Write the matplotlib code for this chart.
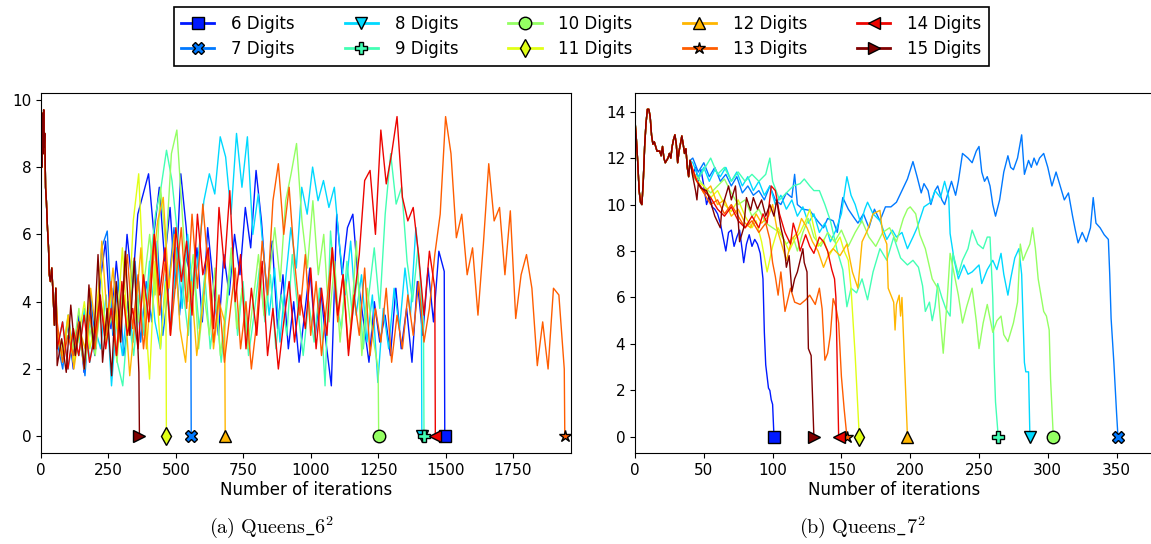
import numpy as np
import matplotlib
matplotlib.use("Agg")
import matplotlib.pyplot as plt
from matplotlib.lines import Line2D
from matplotlib.legend_handler import HandlerLine2D

plt.rcParams['mathtext.fontset'] = 'cm'

digits = [6, 7, 8, 9, 10, 11, 12, 13, 14, 15]
labels = ['%d Digits' % d for d in digits]
colors = plt.cm.jet(np.linspace(0.15, 1.0, 10))
markers = ['s', 'X', 'v', 'P', 'o', 'd', '^', '*', '<', '>']

# ---------------- (a) Queens_6^2 ----------------
# common start (iteration, value), then every series sampled on a regular grid up to its end
a_start_x = [0, 2, 4, 6, 8, 10, 12, 14, 17, 20, 24, 28, 31, 35, 40, 45, 50, 55]
a_start_y = [7.4, 9.2, 8.0, 9.6, 8.4, 9.7, 8.6, 9.0, 7.4, 7.0, 6.2, 5.6, 4.8, 4.6, 5.0, 4.2, 3.3, 4.4]
a_end = [1497, 557, 1412, 1420, 1252, 465, 683, 1942, 1462, 365]

a_6 = [3.0, 2.2, 3.4, 2.0, 3.6, 1.9, 3.8, 2.4, 4.6, 5.8, 3.2, 5.2, 3.6, 6.0, 4.4, 6.6, 7.2, 7.8,
       6.0, 7.4, 5.2, 6.8, 4.4, 7.8, 6.2, 4.0, 5.6, 3.4, 6.2, 4.6, 3.0, 5.4, 4.2, 6.0, 4.8, 6.8,
       5.6, 7.9, 6.4, 4.2, 5.8, 3.2, 4.8, 2.6, 4.0, 2.2, 3.6, 5.0, 3.0, 4.4, 2.8, 1.5, 6.6, 4.8,
       6.2, 6.6, 4.6, 3.4, 2.2, 4.0, 2.8, 3.6, 2.4, 4.4, 2.6, 3.8, 2.2, 4.6, 3.0, 5.0, 3.4, 5.5, 4.9]
a_7 = [2.8, 2.0, 3.6, 2.4, 3.2, 1.8, 4.2, 2.6, 5.6, 6.1, 3.0, 4.6, 2.4, 3.8, 5.2, 2.8, 4.6, 3.4,
       5.8, 3.0, 4.4, 6.2, 3.6, 5.4, 4.8]
a_8 = [2.6, 3.4, 2.0, 3.0, 2.4, 3.8, 2.2, 3.2, 2.6, 4.2, 1.5, 3.6, 2.4, 4.0, 2.8, 4.6, 3.0, 5.2,
       3.4, 2.6, 4.8, 3.2, 5.6, 3.8, 6.0, 4.2, 5.4, 7.0, 7.8, 7.2, 8.9, 8.3, 6.6, 9.0, 7.4, 8.9,
       6.0, 7.2, 5.4, 3.6, 5.0, 2.8, 4.6, 6.2, 5.0, 7.4, 6.6, 8.0, 7.0, 7.6, 6.8, 7.4, 5.6, 4.2,
       5.8, 3.6, 4.8, 2.8, 4.2, 1.6, 3.8, 2.6, 4.4, 3.2, 5.0, 3.6, 6.2, 4.4]
a_9 = [3.2, 2.4, 3.6, 2.2, 3.0, 2.0, 3.4, 2.6, 4.0, 3.0, 4.4, 2.2, 1.5, 3.6, 2.4, 4.2, 3.0, 5.2,
       6.6, 7.4, 8.5, 7.6, 6.0, 4.4, 3.0, 5.0, 3.2, 4.8, 2.6, 4.0, 2.2, 3.8, 5.4, 3.0, 4.6, 2.4,
       3.6, 5.0, 3.4, 4.8, 2.6, 4.2, 3.0, 5.4, 3.8, 2.4, 4.0, 2.8, 4.4, 1.5, 6.1, 4.0, 3.2, 5.2,
       3.6, 4.8, 2.6, 4.2, 5.6, 3.8, 6.6, 8.4, 6.9, 7.4, 5.2, 4.0, 5.6, 3.4]
a_10 = [3.0, 2.2, 3.4, 2.6, 3.8, 2.0, 3.2, 2.4, 4.0, 2.8, 3.6, 2.2, 4.4, 3.0, 5.2, 3.4, 4.6, 6.0,
        4.2, 7.4, 5.6, 8.4, 9.1, 6.6, 4.0, 5.4, 2.6, 4.2, 3.0, 5.0, 2.4, 3.8, 5.6, 3.2, 4.4, 2.6,
        4.0, 5.4, 3.6, 4.8, 6.2, 4.6, 7.0, 7.8, 8.7, 6.4, 5.0, 7.0, 4.8, 6.0, 3.4, 5.2, 2.8, 4.6,
        3.2, 5.8, 2.4, 4.4, 3.0, 2.0]
a_11 = [3.2, 2.4, 3.6, 2.2, 3.0, 4.0, 2.6, 3.4, 5.0, 2.8, 4.4, 3.2, 5.6, 3.0, 6.4, 7.8, 4.2, 1.7,
        5.2, 2.6, 4.6]
a_12 = [3.0, 2.4, 3.6, 2.0, 3.2, 2.6, 4.4, 3.0, 5.8, 3.4, 5.0, 2.8, 4.2, 1.8, 3.6, 5.6, 2.6, 4.8,
        6.4, 7.1, 4.4, 6.0, 3.2, 2.2, 4.6, 2.4, 3.8, 5.4, 2.6, 4.0, 3.4]
a_13 = [3.4, 2.2, 3.0, 2.4, 3.4, 2.0, 3.6, 2.6, 4.0, 3.0, 4.6, 2.4, 3.8, 5.4, 3.2, 4.8, 2.6, 4.2,
        6.0, 3.6, 5.2, 3.0, 4.6, 6.2, 3.8, 6.6, 4.4, 6.9, 5.0, 2.8, 4.2, 2.2, 3.6, 5.0, 2.6, 4.0,
        2.0, 3.4, 5.8, 4.2, 7.0, 8.1, 6.0, 7.4, 5.2, 3.6, 5.4, 3.0, 4.6, 2.4, 4.0, 5.6, 3.4, 4.8,
        2.6, 4.2, 3.0, 5.0, 2.4, 3.8, 2.8, 4.4, 2.2, 3.6, 2.6, 4.2, 3.0, 4.6, 2.8, 3.8, 5.4, 6.6,
        9.5, 8.4, 5.9, 6.6, 4.8, 5.6, 3.6, 5.7, 8.1, 6.4, 6.8, 4.8, 6.7, 3.5, 4.8, 5.4, 4.4, 2.1,
        3.4, 2.0, 4.4, 4.2, 2.0]
a_14 = [2.6, 3.4, 2.0, 3.2, 2.4, 3.6, 2.2, 3.0, 4.2, 2.6, 3.8, 2.4, 4.6, 3.0, 3.8, 2.6, 4.8, 3.4,
        6.0, 4.2, 5.6, 3.0, 6.2, 4.6, 5.8, 3.6, 6.6, 4.8, 5.6, 3.2, 6.8, 5.0, 7.3, 4.0, 5.4, 2.6,
        4.4, 3.0, 5.2, 2.4, 3.8, 2.0, 3.4, 4.6, 2.8, 4.2, 3.2, 5.0, 2.6, 4.4, 3.0, 5.6, 3.6, 4.8,
        2.4, 4.0, 5.4, 7.6, 7.9, 6.0, 9.1, 7.5, 8.4, 9.5, 7.1, 6.4, 6.8, 5.4, 3.6, 5.5, 4.4]
a_15 = [2.1, 2.9, 1.9, 3.9, 2.4, 3.4, 2.0, 4.5, 2.6, 5.4, 2.2, 3.8, 1.8, 4.6, 2.8, 5.5, 3.0, 5.3, 1.9]
a_series = [a_6, a_7, a_8, a_9, a_10, a_11, a_12, a_13, a_14, a_15]

# ---------------- (b) Queens_7^2 ----------------
b_start = [(0, 13.6), (1, 12.8), (2, 11.8), (3, 10.6), (4, 10.1), (5, 10.0), (6, 11.0), (7, 12.5),
           (8, 13.5), (9, 14.1), (10, 14.1), (11, 13.8), (12, 13.0), (13, 12.6), (14, 12.7),
           (16, 12.3), (18, 12.3), (19, 12.1), (20, 12.5), (21, 12.0), (22, 11.8), (24, 12.0),
           (25, 12.2), (26, 12.0), (27, 12.5), (28, 12.8), (29, 13.0), (30, 12.6), (31, 11.8),
           (32, 12.3), (33, 12.6), (34, 12.95), (35, 12.6), (36, 12.2), (37, 12.4), (38, 11.6),
           (39, 11.2), (40, 11.9)]
b_end = [101, 351, 287, 264, 304, 163, 198, 154, 148, 130]

b_6 = [(42, 11.3), (44, 11.6), (46, 11.0), (48, 11.5), (50, 10.8), (52, 10.0), (54, 10.4), (56, 9.9),
       (58, 9.8), (60, 9.6), (62, 9.2), (64, 8.6), (66, 8.0), (68, 8.8), (70, 8.9), (72, 8.2),
       (74, 8.6), (76, 8.9), (78, 8.0), (79, 7.5), (81, 8.3), (83, 8.7), (85, 8.2), (87, 8.5),
       (89, 8.3), (91, 7.9), (93, 6.8), (94, 4.5), (95, 3.1), (96, 2.6), (97, 2.1), (98, 2.0),
       (99, 1.6), (100, 1.4)]
b_7 = [(42, 12.0), (46, 11.4), (50, 11.8), (54, 11.2), (58, 11.6), (62, 11.0), (66, 11.3), (70, 10.8),
       (74, 11.2), (78, 10.5), (82, 10.8), (86, 10.4), (90, 10.6), (94, 10.2), (98, 10.8), (102, 10.2),
       (106, 10.0), (110, 10.5), (114, 10.3), (116, 11.3), (118, 10.0), (122, 9.8), (127, 9.75),
       (130, 9.5), (134, 9.2), (137, 9.0), (140, 9.4), (144, 9.3), (147, 8.8), (151, 10.3),
       (155, 9.8), (159, 9.45), (162, 9.2), (166, 9.6), (170, 9.0), (174, 9.8), (178, 9.3),
       (182, 9.9), (186, 9.9), (190, 10.1), (194, 10.6), (198, 11.1), (202, 11.85), (205, 11.2),
       (208, 10.5), (210, 10.9), (213, 10.6), (215, 10.0), (218, 10.6), (220, 10.8), (223, 10.2),
       (225, 10.0), (228, 10.6), (230, 11.0), (233, 10.4), (235, 11.0), (238, 12.2), (242, 12.0),
       (245, 11.8), (248, 12.3), (250, 12.5), (252, 11.4), (254, 11.0), (256, 11.2), (258, 10.8),
       (260, 10.0), (262, 9.5), (265, 10.2), (268, 11.4), (271, 12.1), (273, 11.6), (275, 11.5),
       (278, 12.0), (281, 13.0), (283, 11.3), (286, 11.9), (288, 11.6), (290, 12.0), (292, 11.7),
       (294, 12.0), (297, 12.2), (300, 11.6), (303, 10.8), (306, 11.4), (309, 10.8), (312, 10.2),
       (315, 10.5), (318, 9.5), (320, 8.9), (322, 8.35), (325, 8.8), (328, 8.4), (331, 9.0),
       (333, 10.3), (335, 9.2), (338, 9.0), (341, 8.7), (344, 8.5), (345, 7.0), (346, 5.1),
       (348, 3.2), (350, 1.0)]
b_8 = [(42, 11.8), (46, 11.2), (50, 11.6), (54, 11.0), (58, 11.5), (62, 11.2), (66, 11.6), (70, 11.0),
       (74, 11.4), (78, 10.8), (82, 11.2), (86, 10.6), (90, 11.0), (94, 10.4), (98, 10.8), (102, 10.0),
       (106, 10.4), (110, 9.8), (114, 10.2), (118, 9.5), (122, 9.9), (126, 9.2), (130, 9.6),
       (134, 8.8), (138, 9.2), (142, 8.4), (146, 8.9), (150, 9.6), (154, 11.2), (157, 10.4),
       (160, 10.0), (164, 9.2), (167, 9.8), (169, 10.1), (173, 9.6), (178, 9.3), (183, 8.5),
       (187, 8.9), (190, 8.6), (194, 8.8), (198, 8.1), (202, 8.6), (205, 9.0), (210, 9.9),
       (215, 10.1), (218, 10.6), (222, 10.3), (225, 11.0), (228, 10.3), (229, 8.75), (232, 7.6),
       (235, 6.8), (239, 7.4), (242, 7.0), (245, 7.1), (250, 7.4), (252, 6.6), (256, 7.2),
       (260, 7.6), (263, 7.2), (266, 7.9), (268, 7.0), (271, 6.1), (273, 6.8), (276, 7.7),
       (279, 8.1), (281, 7.0), (283, 3.2), (284, 2.8), (286, 2.8)]
b_9 = [(42, 11.2), (45, 11.0), (50, 11.5), (55, 12.0), (60, 11.3), (65, 11.6), (70, 11.0), (75, 11.4),
       (80, 11.0), (85, 11.3), (90, 11.0), (95, 11.3), (98, 12.0), (100, 11.0), (105, 10.2),
       (110, 10.5), (115, 10.8), (120, 10.9), (123, 11.1), (127, 10.8), (130, 10.6), (134, 10.6),
       (138, 10.0), (142, 9.3), (147, 8.0), (151, 7.2), (154, 5.6), (157, 6.4), (161, 6.2),
       (165, 6.8), (169, 5.9), (173, 7.1), (178, 8.1), (183, 7.6), (188, 8.6), (193, 7.7),
       (198, 7.4), (202, 7.6), (206, 7.3), (209, 6.5), (211, 5.4), (214, 5.8), (216, 5.0),
       (218, 5.6), (220, 6.6), (223, 6.0), (226, 5.5), (229, 5.2), (231, 7.9), (235, 7.0),
       (238, 7.6), (242, 8.1), (245, 8.9), (249, 8.3), (253, 8.1), (256, 8.6), (258, 8.6),
       (260, 6.0), (261, 3.2), (262, 1.5)]
b_10 = [(42, 11.4), (45, 11.2), (50, 10.8), (55, 10.5), (60, 10.8), (65, 11.1), (70, 10.5), (75, 10.0),
        (80, 10.2), (85, 9.5), (90, 9.8), (95, 9.2), (100, 9.0), (105, 8.8), (110, 8.3), (115, 8.6),
        (118, 8.0), (122, 8.8), (126, 9.4), (130, 8.6), (135, 8.2), (140, 8.8), (145, 8.4),
        (150, 8.9), (155, 8.2), (160, 8.8), (165, 9.3), (170, 8.6), (175, 8.2), (180, 8.8),
        (185, 9.0), (190, 8.4), (195, 9.4), (198, 9.8), (200, 9.9), (204, 9.6), (207, 8.7),
        (211, 8.1), (216, 6.8), (220, 6.4), (222, 5.0), (224, 3.6), (227, 6.0), (229, 7.9),
        (232, 7.0), (235, 6.1), (238, 4.9), (241, 5.6), (245, 6.4), (248, 5.0), (250, 3.8),
        (253, 4.9), (256, 5.7), (260, 4.5), (263, 5.0), (266, 5.2), (268, 4.4), (271, 4.1),
        (275, 4.9), (278, 5.8), (280, 8.3), (282, 7.6), (284, 7.9), (287, 8.3), (289, 9.0),
        (291, 8.1), (293, 6.8), (297, 5.4), (299, 5.2), (301, 4.6), (302, 2.5)]
b_11 = [(42, 11.4), (45, 11.0), (50, 10.8), (55, 10.3), (60, 10.6), (65, 10.0), (70, 9.7), (75, 10.2),
        (80, 9.5), (85, 9.0), (88, 9.3), (92, 8.4), (96, 7.1), (100, 8.2), (104, 9.0), (108, 8.5),
        (112, 8.0), (116, 8.5), (120, 8.8), (124, 9.3), (127, 9.8), (130, 9.0), (133, 8.2),
        (137, 8.5), (141, 7.8), (145, 8.2), (149, 8.6), (152, 8.0), (155, 7.6), (157, 6.4),
        (160, 3.5)]
b_12 = [(42, 11.5), (45, 11.0), (50, 10.5), (55, 10.8), (60, 10.0), (65, 10.2), (70, 9.5), (75, 9.8),
        (80, 9.2), (84, 9.0), (88, 9.6), (92, 9.2), (97, 9.5), (100, 10.0), (103, 9.0), (107, 8.2),
        (110, 7.6), (114, 8.5), (118, 8.8), (121, 9.4), (125, 9.0), (129, 8.4), (133, 8.0),
        (137, 7.3), (141, 7.9), (144, 8.1), (149, 7.8), (154, 8.3), (158, 7.1), (162, 6.4),
        (165, 8.4), (169, 8.9), (173, 9.6), (178, 9.75), (180, 8.75), (183, 8.3), (184, 6.4),
        (188, 5.8), (189, 4.6), (190, 5.7), (192, 6.1), (193, 5.2), (194, 6.0), (196, 3.0)]
b_13 = [(42, 11.3), (45, 11.0), (50, 10.5), (55, 10.0), (60, 10.2), (65, 9.6), (70, 10.0), (75, 9.5),
        (80, 9.0), (85, 9.3), (90, 8.8), (95, 9.2), (98, 8.5), (100, 7.5), (102, 6.9), (104, 6.1),
        (106, 7.1), (109, 5.4), (113, 6.4), (116, 5.8), (120, 5.7), (124, 5.9), (127, 6.1),
        (131, 5.7), (134, 6.4), (136, 5.5), (138, 3.3), (140, 3.6), (142, 4.4), (144, 5.95),
        (146, 5.6), (148, 4.9), (150, 2.6), (152, 1.2)]
b_14 = [(42, 11.5), (45, 11.0), (50, 10.6), (55, 10.3), (60, 9.8), (65, 9.5), (70, 9.9), (75, 9.3),
        (80, 9.0), (85, 9.5), (90, 9.0), (93, 9.6), (96, 9.2), (99, 10.8), (102, 10.6), (105, 9.6),
        (109, 8.8), (113, 8.3), (115, 9.2), (118, 8.6), (120, 8.0), (124, 8.7), (127, 8.2),
        (130, 7.9), (134, 8.6), (137, 8.4), (140, 8.0), (143, 7.2), (145, 6.8), (146, 6.0),
        (147, 3.0)]
b_15 = [(42, 11.2), (44, 10.6), (45, 10.2), (46, 10.9), (48, 10.7), (52, 10.6), (55, 10.1), (58, 9.5),
        (62, 9.0), (63, 9.75), (65, 10.2), (68, 10.8), (70, 10.2), (73, 10.8), (75, 9.3), (76, 8.4),
        (79, 9.0), (81, 10.3), (84, 9.75), (86, 10.3), (89, 9.8), (92, 10.2), (95, 9.5), (98, 10.0),
        (101, 9.5), (103, 10.2), (106, 9.0), (108, 8.5), (110, 7.3), (112, 7.8), (114, 6.25),
        (116, 6.8), (118, 7.1), (120, 7.6), (122, 8.1), (123, 7.5), (125, 7.1), (126, 3.8),
        (128, 3.5)]
b_series = [b_6, b_7, b_8, b_9, b_10, b_11, b_12, b_13, b_14, b_15]


# legend entries: line with the marker sitting at its right end
class EndMarkerHandler(HandlerLine2D):
    def get_xdata(self, legend, xdescent, ydescent, width, height, fontsize):
        xdata = [-xdescent, -xdescent + width]
        return xdata, [-xdescent + width - 0.3 * fontsize]


fig = plt.figure(figsize=(11.51, 5.44), dpi=100)
ax1 = fig.add_axes([0.0356, 0.167, 0.4605, 0.662])
ax2 = fig.add_axes([0.5517, 0.167, 0.4495, 0.662])

# panel (a)
for i in range(10):
    vals = a_series[i]
    xs = np.linspace(60, a_end[i] - 2, len(vals))
    x = list(a_start_x) + list(xs) + [a_end[i]]
    y = list(a_start_y) + list(vals) + [0]
    ax1.plot(x, y, color=colors[i], lw=1.0)
for i in range(10):
    ax1.plot(a_end[i], 0, marker=markers[i], color=colors[i], mec='k', mew=1.0,
             ms=9, zorder=5, clip_on=False)

# panel (b)
bsx, bsy = zip(*b_start)
for i in range(10):
    sx, sy = zip(*b_series[i])
    x = list(bsx) + list(sx) + [b_end[i]]
    y = list(bsy) + list(sy) + [0]
    ax2.plot(x, y, color=colors[i], lw=1.0)
for i in range(10):
    ax2.plot(b_end[i], 0, marker=markers[i], color=colors[i], mec='k', mew=1.0,
             ms=9, zorder=5, clip_on=False)

ax1.set_xlim(0, 1965)
ax1.set_ylim(-0.5, 10.2)
ax1.set_xticks([0, 250, 500, 750, 1000, 1250, 1500, 1750])
ax1.set_yticks([0, 2, 4, 6, 8, 10])
ax2.set_xlim(0, 376)
ax2.set_ylim(-0.7, 14.8)
ax2.set_xticks([0, 50, 100, 150, 200, 250, 300, 350])
ax2.set_yticks([0, 2, 4, 6, 8, 10, 12, 14])
for ax in (ax1, ax2):
    ax.set_xlabel('Number of iterations', fontsize=12, labelpad=2)
    ax.tick_params(labelsize=11)

handles = [Line2D([0, 1], [0, 0], color=colors[i], lw=2, marker=markers[i], mec='k', ms=9)
           for i in range(10)]
leg = fig.legend(handles, labels, loc='upper center', bbox_to_anchor=(0.505, 0.987), ncol=5,
                 fontsize=12, fancybox=False, edgecolor='black', framealpha=1,
                 borderaxespad=0, handler_map={Line2D: EndMarkerHandler()},
                 columnspacing=3.0, handletextpad=1.0, borderpad=0.45, labelspacing=0.45)
leg.get_frame().set_linewidth(1.2)

fig.text(0.236, 0.02, r'$\mathrm{(a)\ Queens\_6^2}$', fontsize=14.5, ha='center')
fig.text(0.749, 0.02, r'$\mathrm{(b)\ Queens\_7^2}$', fontsize=14.5, ha='center')

fig.savefig('out.png', dpi=100)
